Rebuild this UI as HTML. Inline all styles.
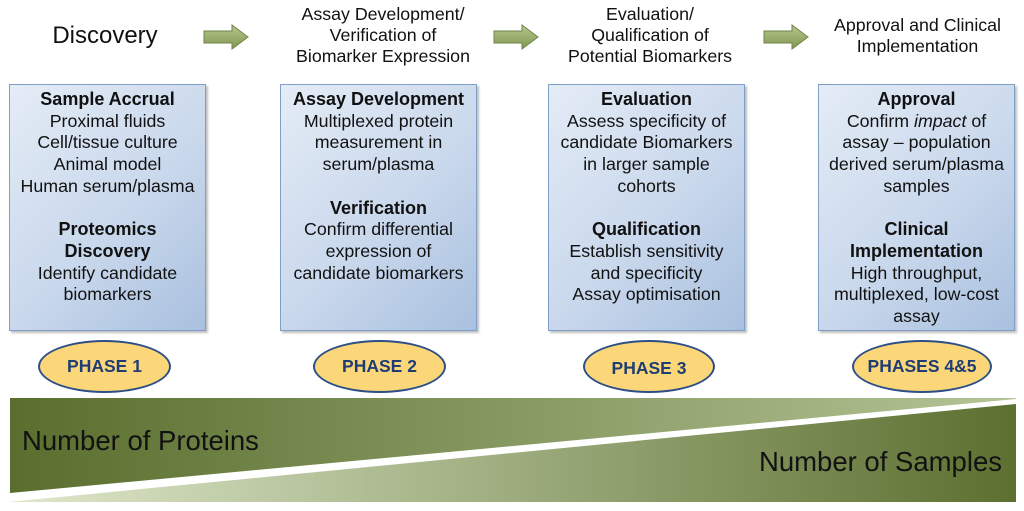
<!DOCTYPE html>
<html><head><meta charset="utf-8"><style>
body{margin:0;width:1024px;height:511px;background:#fff;position:relative;overflow:hidden;font-family:"Liberation Sans",Arial,sans-serif;color:#111}
.h{position:absolute;text-align:center;font-size:17.8px;line-height:21px}
.box{position:absolute;top:84px;width:197px;height:247px;border:1px solid #7f9fc8;background:linear-gradient(135deg,#e4ecf6 0%,#c9d8ec 55%,#a9c0df 100%);box-shadow:2px 2px 2px rgba(0,0,0,.25);text-align:center;font-size:17.8px;line-height:21.7px;padding-top:4px;box-sizing:border-box;white-space:nowrap}
.box b{font-size:18px}
.el{position:absolute;border:2px solid #2d4f86;border-radius:50%;background:#fcd77a;text-align:center;font-weight:bold;color:#1f3d74;font-size:17.5px;box-sizing:border-box}
</style></head><body>
<div class="h" style="left:10px;top:21px;width:190px;font-size:24px;line-height:30px">Discovery</div>
<div class="h" style="left:263px;top:4px;width:240px">Assay Development/<br>Verification of<br>Biomarker Expression</div>
<div class="h" style="left:535px;top:4px;width:230px">Evaluation/<br>Qualification of<br>Potential Biomarkers</div>
<div class="h" style="left:810px;top:15px;width:215px">Approval and Clinical<br>Implementation</div>
<svg width="1024" height="511" style="position:absolute;left:0;top:0">
<defs>
<linearGradient id="ag" x1="0" y1="0" x2="0" y2="1"><stop offset="0" stop-color="#b8c890"/><stop offset="1" stop-color="#7f9650"/></linearGradient>
<linearGradient id="w1" x1="0" y1="0" x2="1" y2="0"><stop offset="0" stop-color="#5a6e2e"/><stop offset="1" stop-color="#b4c496"/></linearGradient>
<linearGradient id="w2" x1="0" y1="0" x2="1" y2="0"><stop offset="0" stop-color="#dfe8cc"/><stop offset="1" stop-color="#5c7030"/></linearGradient>
</defs>
<g fill="url(#ag)" stroke="#6f8648" stroke-width="1">
<path d="M204 31 H232 V25 L248 37 L232 49 V43 H204 Z"/>
<path d="M494 31 H522 V25 L538 37 L522 49 V43 H494 Z"/>
<path d="M764 31 H792 V25 L808 37 L792 49 V43 H764 Z"/>
</g>
<path d="M10 398 H1016 L1016 399 L10 493 Z" fill="url(#w1)"/>
<path d="M8 502 L1016 404 V502 Z" fill="url(#w2)"/>
<text x="22" y="450" font-size="27.5" font-family="Liberation Sans" fill="#111">Number of Proteins</text>
<text x="1002" y="471" font-size="27.5" text-anchor="end" font-family="Liberation Sans" fill="#111">Number of Samples</text>
</svg>
<div class="box" style="left:9px"><b>Sample Accrual</b><br>Proximal fluids<br>Cell/tissue culture<br>Animal model<br>Human serum/plasma<br><br><b>Proteomics<br>Discovery</b><br>Identify candidate<br>biomarkers</div>
<div class="box" style="left:280px"><b>Assay Development</b><br>Multiplexed protein<br>measurement in<br>serum/plasma<br><br><b>Verification</b><br>Confirm differential<br>expression of<br>candidate biomarkers</div>
<div class="box" style="left:548px"><b>Evaluation</b><br>Assess specificity of<br>candidate Biomarkers<br>in larger sample<br>cohorts<br><br><b>Qualification</b><br>Establish sensitivity<br>and specificity<br>Assay optimisation</div>
<div class="box" style="left:818px"><b>Approval</b><br>Confirm <i>impact</i> of<br>assay – population<br>derived serum/plasma<br>samples<br><br><b>Clinical<br>Implementation</b><br>High throughput,<br>multiplexed, low-cost<br>assay</div>
<div class="el" style="left:38px;top:340px;width:133px;height:53px;line-height:49px">PHASE 1</div>
<div class="el" style="left:313px;top:340px;width:133px;height:53px;line-height:49px">PHASE 2</div>
<div class="el" style="left:583px;top:340px;width:132px;height:53px;line-height:53px">PHASE 3</div>
<div class="el" style="left:852px;top:340px;width:140px;height:53px;line-height:49px">PHASES 4&amp;5</div>
</body></html>
